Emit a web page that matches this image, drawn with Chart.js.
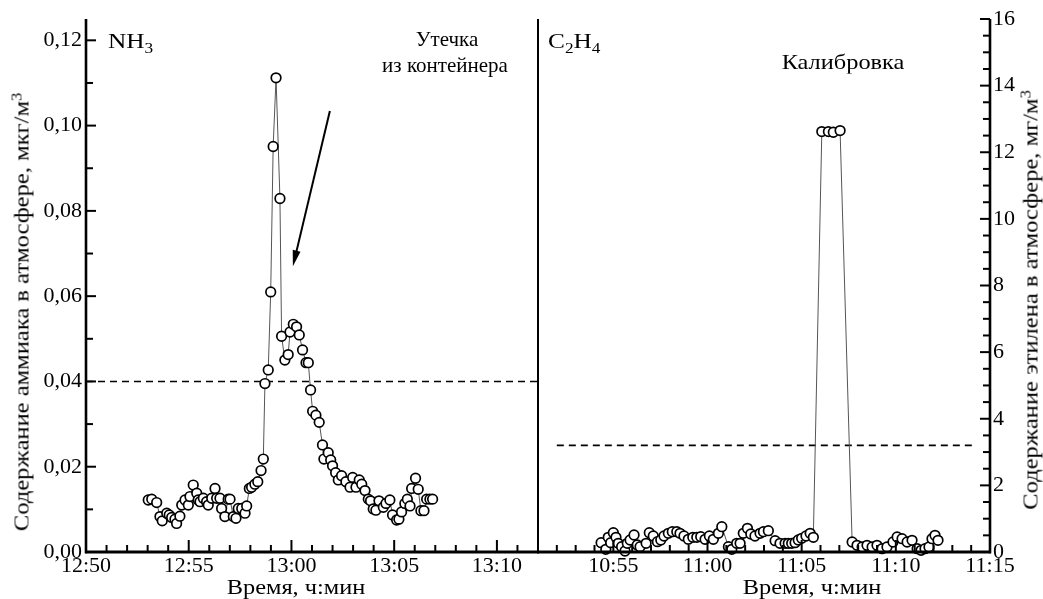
<!DOCTYPE html>
<html><head><meta charset="utf-8">
<script src="https://cdn.jsdelivr.net/npm/chart.js@4/dist/chart.umd.min.js"></script>
<style>
body{margin:0;background:#fff;width:1043px;height:599px;overflow:hidden;position:relative;font-family:'Liberation Serif',serif;color:#000}
canvas{position:absolute;top:0}
#c1{left:0}
#c2{left:536px}
.t{position:absolute;font-size:21px;line-height:1;white-space:nowrap;transform:translate(-50%,-50%)}
.s{transform:translate(-50%,-50%) scaleX(1.16)}
.l{transform:translate(0,-50%) scaleX(1.15);transform-origin:0 50%;font-size:22px}
.r{transform:translate(-50%,-50%) rotate(-90deg) scaleX(1.17)}
.sub{font-size:15px;position:relative;top:5px}
.sup{font-size:14px;position:relative;top:-7px}
</style></head>
<body>
<canvas id="c1" width="540" height="599"></canvas>
<canvas id="c2" width="507" height="599"></canvas>
<div class="t l" style="left:108px;top:41px">NH<span class="sub">3</span></div>
<div class="t" style="left:447px;top:39px">Утечка</div>
<div class="t" style="left:445px;top:65px">из контейнера</div>
<div class="t l" style="left:548px;top:41px">C<span class="sub">2</span>H<span class="sub">4</span></div>
<div class="t s" style="left:843px;top:62px">Калибровка</div>
<div class="t s" style="left:296px;top:587px">Время, ч:мин</div>
<div class="t s" style="left:812px;top:587px">Время, ч:мин</div>
<div class="t r" style="left:22px;top:312px">Содержание аммиака в атмосфере, мкг/м<span class="sup">3</span></div>
<div class="t r" style="left:1031px;top:300px">Содержание этилена в атмосфере, мг/м<span class="sup">3</span></div>
<script>
// ---- data (times in minutes of the day) ----
const nh3Time = [773.03,773.20,773.44,773.60,773.71,773.93,774.05,774.17,774.33,774.41,
774.57,774.66,774.82,774.98,775.06,775.22,775.39,775.46,775.55,775.71,
775.87,775.95,776.12,776.28,776.36,776.52,776.60,776.76,776.92,777.01,
777.17,777.30,777.41,777.58,777.74,777.82,777.95,778.06,778.22,778.36,
778.52,778.63,778.71,778.87,778.99,779.11,779.25,779.44,779.52,779.68,
779.84,779.93,780.09,780.25,780.38,780.54,780.71,780.82,780.93,781.03,
781.19,781.35,781.51,781.58,781.79,781.91,782.00,782.15,782.28,782.44,
782.65,782.85,782.98,783.14,783.30,783.42,783.58,783.74,783.85,783.98,
784.11,784.26,784.47,784.60,784.79,784.92,785.12,785.23,785.36,785.52,
785.64,785.77,785.85,786.04,786.17,786.30,786.45,786.58,786.74,786.87];
const nh3Value = [0.0122,0.0124,0.0116,0.0083,0.0073,0.0091,0.0087,0.0081,0.0077,0.0067,
0.0084,0.0110,0.0122,0.0110,0.0130,0.0157,0.0138,0.0122,0.0118,0.0126,
0.0118,0.0110,0.0126,0.0149,0.0126,0.0126,0.0102,0.0083,0.0124,0.0124,
0.0083,0.0079,0.0102,0.0102,0.0091,0.0108,0.0149,0.0152,0.0159,0.0165,
0.0191,0.0218,0.0395,0.0427,0.0610,0.0951,0.1112,0.0829,0.0506,0.0450,
0.0463,0.0516,0.0534,0.0528,0.0509,0.0474,0.0444,0.0444,0.0380,0.0330,
0.0321,0.0304,0.0251,0.0218,0.0233,0.0216,0.0202,0.0186,0.0169,0.0179,
0.0165,0.0152,0.0175,0.0152,0.0169,0.0159,0.0144,0.0124,0.0120,0.0101,
0.0098,0.0120,0.0105,0.0114,0.0122,0.0087,0.0075,0.0077,0.0094,0.0114,
0.0124,0.0108,0.0149,0.0173,0.0147,0.0097,0.0097,0.0124,0.0124,0.0124];
const nh3Limit = 0.04;
const nh3LimitTime = [770, 792];

const c2h4Time = [654.35,654.60,654.73,654.86,655.00,655.14,655.26,655.44,655.62,655.74,
655.89,656.10,656.27,656.42,656.74,656.91,657.12,657.34,657.52,657.69,
657.92,658.13,658.37,658.54,658.75,658.98,659.22,659.43,659.64,659.87,
660.10,660.31,660.58,660.76,661.11,661.29,661.55,661.73,661.90,662.12,
662.30,662.52,662.79,662.97,663.23,663.59,663.85,664.12,664.29,664.47,
664.65,664.82,665.00,665.23,665.45,665.62,
666.07,666.42,666.68,667.04,
667.68,667.94,668.21,668.47,668.74,669.00,669.27,669.53,669.85,670.07,
670.33,670.60,670.86,671.13,671.34,671.55,671.76,671.92,672.08,672.24];
const c2h4Value = [0.28,0.08,0.44,0.28,0.58,0.44,0.26,0.16,0.03,0.26,
0.36,0.51,0.21,0.16,0.26,0.58,0.48,0.31,0.36,0.48,
0.56,0.61,0.61,0.56,0.48,0.38,0.44,0.44,0.46,0.38,
0.48,0.38,0.56,0.76,0.16,0.08,0.26,0.26,0.56,0.71,
0.54,0.48,0.56,0.61,0.64,0.34,0.26,0.26,0.26,0.26,
0.28,0.36,0.41,0.48,0.56,0.44,
12.62,12.62,12.60,12.65,
0.30,0.20,0.15,0.20,0.15,0.20,0.10,0.15,0.30,0.45,
0.40,0.30,0.35,0.10,0.05,0.10,0.15,0.40,0.50,0.35];
const c2h4Limit = 3.2;
const c2h4LimitTime = [652, 674.2];

// axis ranges
const leftXRange = [770, 792];
const rightXRange = [651, 675];
const leftYRange = [0, 0.125];
const rightYRange = [0, 16];

const FONT = 'Liberation Serif';
function fmtTime(v){const h=Math.floor(v/60+1e-9);const m=Math.round(v-h*60);return h+':'+String(m).padStart(2,'0');}
function seg(ctx,x1,y1,x2,y2){ctx.beginPath();ctx.moveTo(x1,y1);ctx.lineTo(x2,y2);ctx.stroke();}

const framePlugin = {
  id:'frame',
  afterDatasetsDraw(chart, args, o){
    const ctx=chart.ctx, a=chart.chartArea, xs=chart.scales.x, ys=chart.scales.y;
    ctx.save(); ctx.strokeStyle='#000'; ctx.fillStyle='#000'; ctx.lineCap='butt';
    ctx.lineWidth=2;
    for(let m=o.xFrom;m<=o.xTo;m++){
      const px=xs.getPixelForValue(m); const L=(m%5===0)?12:7;
      seg(ctx,px,a.bottom,px,a.bottom-L);
    }
    for(let i=1;i<=o.yN;i++){
      const py=ys.getPixelForValue(i*o.yStep); const L=(i%o.yMajor===0)?10:7;
      if(o.ySide==='left') seg(ctx,a.left,py,a.left+L,py); else seg(ctx,a.right,py,a.right-L,py);
    }
    ctx.lineWidth=2.6;
    if(o.ySide==='left') seg(ctx,a.left,a.top,a.left,a.bottom+1.3); else seg(ctx,a.right,a.top,a.right,a.bottom+1.3);
    ctx.lineWidth=3;
    seg(ctx,a.left-1,a.bottom,a.right+1,a.bottom);
    ctx.lineWidth=2;
    if(o.divider==='right') seg(ctx,a.right,a.top,a.right,a.bottom);
    if(o.divider==='left') seg(ctx,a.left,a.top,a.left,a.bottom);
    if(o.arrow){
      const x1=xs.getPixelForValue(o.arrow[0]), y1=ys.getPixelForValue(o.arrow[1]);
      const x2=xs.getPixelForValue(o.arrow[2]), y2=ys.getPixelForValue(o.arrow[3]);
      const ang=Math.atan2(y2-y1,x2-x1), hl=16, hw=4;
      ctx.lineWidth=2;
      seg(ctx,x1,y1,x2-Math.cos(ang)*hl*0.8,y2-Math.sin(ang)*hl*0.8);
      ctx.beginPath(); ctx.moveTo(x2,y2);
      ctx.lineTo(x2-Math.cos(ang)*hl-Math.sin(ang)*hw, y2-Math.sin(ang)*hl+Math.cos(ang)*hw);
      ctx.lineTo(x2-Math.cos(ang)*hl+Math.sin(ang)*hw, y2-Math.sin(ang)*hl-Math.cos(ang)*hw);
      ctx.closePath(); ctx.fill();
    }
    ctx.restore();
  }
};

function makeChart(id, t, v, limT, limV, xr, yr, cfg){
  const pts=t.map((x,i)=>({x:x,y:v[i]}));
  return new Chart(document.getElementById(id),{
    type:'line',
    data:{datasets:[
      {data:pts, order:1, borderColor:'#555', borderWidth:1, pointRadius:4.8, pointBackgroundColor:'#fff',
       pointBorderColor:'#000', pointBorderWidth:1.7, tension:0, clip:false},
      {data:[{x:limT[0],y:limV},{x:limT[1],y:limV}], order:2, borderColor:'#000', borderWidth:1.6,
       borderDash:[7,5], pointRadius:0, tension:0}
    ]},
    options:{
      responsive:false, animation:false, events:[],
      layout:{padding:cfg.padding, autoPadding:false},
      plugins:{legend:{display:false}, tooltip:{enabled:false}, frame:cfg.frame},
      scales:{
        x:{type:'linear', min:xr[0], max:xr[1], position:'bottom',
           grid:{display:false, drawTicks:false}, border:{display:false},
           ticks:{stepSize:5, includeBounds:false, autoSkip:false, maxRotation:0, padding:1, color:'#000',
                  font:{family:FONT,size:22}, callback:v=>fmtTime(v)},
           afterFit(s){s.height=47;}},
        y:{type:'linear', min:yr[0], max:yr[1], position:cfg.yPos,
           grid:{display:false, drawTicks:false}, border:{display:false},
           ticks:{stepSize:cfg.yStep, includeBounds:false, autoSkip:false, padding:cfg.yPad, color:'#000',
                  font:{family:FONT,size:22}, callback:cfg.yFmt},
           afterFit(s){s.width=cfg.yWidth;}}
      }
    },
    plugins:[framePlugin]
  });
}

makeChart('c1', nh3Time, nh3Value, nh3LimitTime, nh3Limit, leftXRange, leftYRange, {
  padding:{left:0,right:2,top:19,bottom:0}, yPos:'left', yStep:0.02, yPad:4, yWidth:86,
  yFmt:v=>v.toFixed(2).replace('.',','),
  frame:{xFrom:771,xTo:791,yStep:0.01,yN:12,yMajor:2,ySide:'left',divider:'right',arrow:[781.87,0.1034,780.07,0.0670]}
});
makeChart('c2', c2h4Time, c2h4Value, c2h4LimitTime, c2h4Limit, rightXRange, rightYRange, {
  padding:{left:2,right:0,top:19,bottom:0}, yPos:'right', yStep:2, yPad:3, yWidth:53,
  yFmt:v=>String(Math.round(v)),
  frame:{xFrom:652,xTo:674,yStep:0.5,yN:32,yMajor:4,ySide:'right',divider:'left',arrow:null}
});
</script>
</body></html>
